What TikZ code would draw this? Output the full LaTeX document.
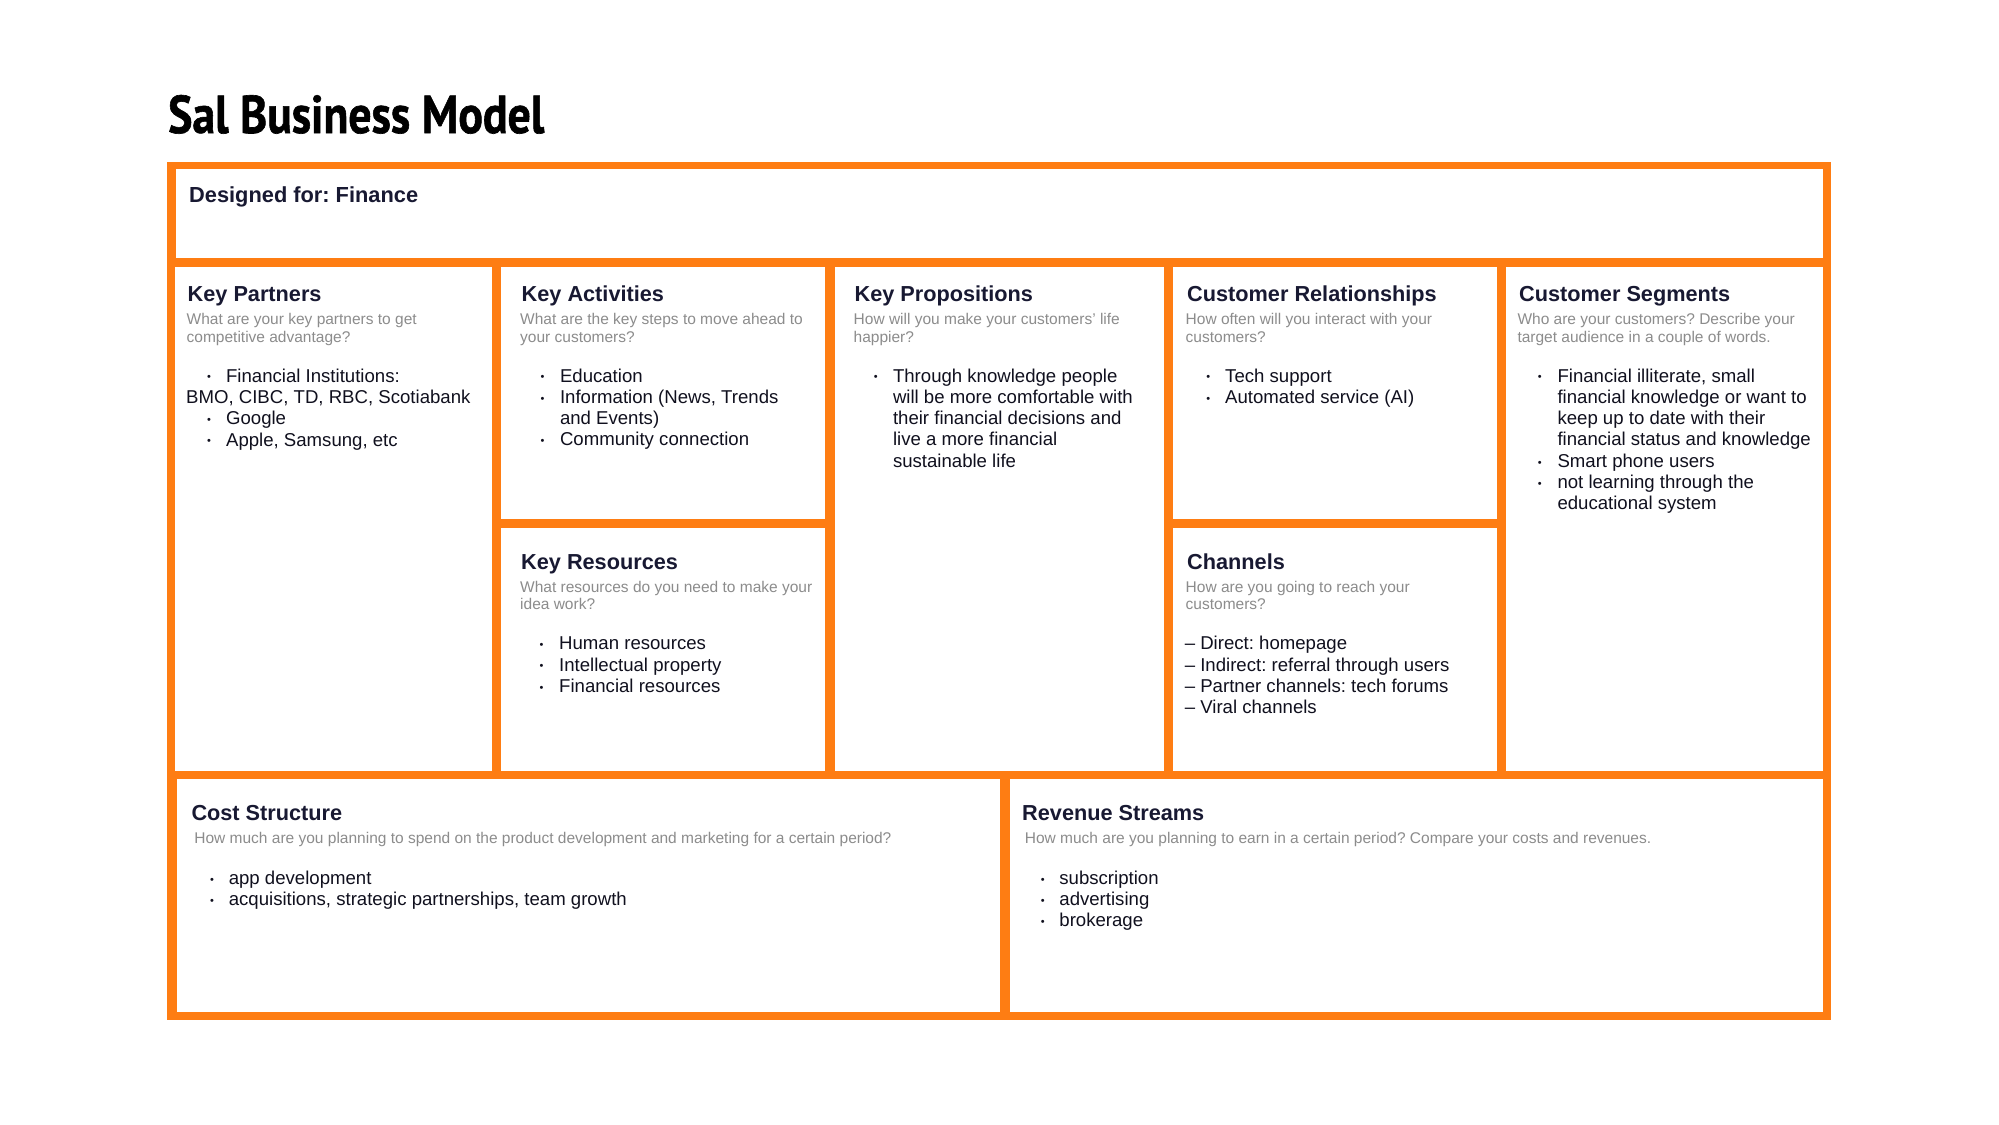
\documentclass[tikz,border=0pt]{standalone}
\usepackage{fontspec}
\setmainfont{Liberation Sans}
\newfontfamily\titlefont{PT Sans}[BoldFeatures={FakeBold=1.2}]
\usepackage{graphicx}
\frenchspacing
\definecolor{orng}{RGB}{254,125,19}
\definecolor{headc}{RGB}{24,25,50}
\definecolor{bodyc}{RGB}{16,16,30}
\definecolor{subc}{RGB}{140,140,140}
\newcommand\lineset[6]{% prefix, style, x, y0, step, list
  \foreach \t [count=\i from 0] in {#6} {\node[#2] (#1\i) at (#3,{#4+\i*#5}) {\t};}}
\newcommand\bulset[4]{% prefix, x, y0, list of line indices with bullets
  \foreach \j in {#4} {\node[bul] (#1\j) at (#2,{#3+\j*21.33}) {\raisebox{1.2pt}{•}};}}
\begin{document}
\begin{tikzpicture}[x=1pt,y=-1pt,
  cell/.style={fill=white, inner sep=0, outer sep=0, anchor=north west},
  head/.style={anchor=base west, inner sep=0, font=\fontsize{21.7}{26}\selectfont\bfseries\frenchspacing, text=headc},
  sub/.style={anchor=base west, inner sep=0, font=\fontsize{15.5}{17.7}\selectfont\frenchspacing, text=subc},
  body/.style={anchor=base west, inner sep=0, font=\fontsize{18.6}{21.33}\selectfont\frenchspacing, text=bodyc},
  bul/.style={anchor=base, inner sep=0, font=\fontsize{11}{11}\selectfont, text=bodyc},
]
\useasboundingbox (0,0) rectangle (1999,1124);
\fill[white] (0,0) rectangle (1999,1124);
% title
\node[anchor=base west, inner sep=0, text=black] (title) at (168,133)
  {\resizebox{376pt}{38pt}{\titlefont\bfseries Sal Business Model}};
% frame and cells
\node[fill=orng, inner sep=0, outer sep=0, anchor=north west, minimum width=1664pt, minimum height=858pt] (frame) at (167,162) {};
\node[cell, minimum width=1647pt, minimum height=89pt] (top) at (176,169) {};
\node[cell, minimum width=317pt, minimum height=504pt] (kp) at (175,267) {};
\node[cell, minimum width=324pt, minimum height=252pt] (ka) at (501,267) {};
\node[cell, minimum width=324pt, minimum height=243pt] (kr) at (501,528) {};
\node[cell, minimum width=329pt, minimum height=504pt] (kpr) at (835,267) {};
\node[cell, minimum width=324pt, minimum height=252pt] (cr) at (1173,267) {};
\node[cell, minimum width=324pt, minimum height=243pt] (ch) at (1173,528) {};
\node[cell, minimum width=317pt, minimum height=504pt] (cs) at (1506,267) {};
\node[cell, minimum width=823pt, minimum height=233pt] (cost) at (177,779) {};
\node[cell, minimum width=813pt, minimum height=233pt] (rev) at (1010,779) {};
% designed for
\node[anchor=base west, inner sep=0, text=headc, font=\fontsize{21.8}{26}\selectfont\bfseries\frenchspacing] (designed) at (189,202.5) {Designed for: Finance};
% Key Partners
\node[head] (kph) at (187.5,301.5) {Key Partners};
\lineset{kps}{sub}{186.5}{324.5}{17.7}{{What are your key partners to get},{competitive advantage?}}
\node[body] (kpt0) at (225.9,382) {Financial Institutions:};
\node[body] (kpt1) at (186,403.33) {BMO, CIBC, TD, RBC, Scotiabank};
\node[body] (kpt2) at (225.9,424.67) {Google};
\node[body] (kpt3) at (225.9,446) {Apple, Samsung, etc};
\bulset{kpb}{209}{382}{0,2,3}
% Key Activities
\node[head] (kah) at (521.5,301.5) {Key Activities};
\lineset{kas}{sub}{520}{324.5}{17.7}{{What are the key steps to move ahead to},{your customers?}}
\lineset{kat}{body}{559.8}{382}{21.33}{{Education},{Information (News, Trends},{and Events)},{Community connection}}
\bulset{kab}{542.5}{382}{0,1,3}
% Key Resources
\node[head] (krh) at (521,569.2) {Key Resources};
\lineset{krs}{sub}{520}{592.2}{17.7}{{What resources do you need to make your},{idea work?}}
\lineset{krt}{body}{559}{649.7}{21.33}{{Human resources},{Intellectual property},{Financial resources}}
\bulset{krb}{541.6}{649.7}{0,1,2}
% Key Propositions
\node[head] (kprh) at (854.4,301.5) {Key Propositions};
\lineset{kprs}{sub}{853.5}{324.5}{17.7}{{How will you make your customers' life},{happier?}}
\lineset{kprt}{body}{892.8}{382}{21.33}{{Through knowledge people},{will be more comfortable with},{their financial decisions and},{live a more financial},{sustainable life}}
\bulset{kprb}{875.8}{382}{0}
% Customer Relationships
\node[head] (crh) at (1187,301.5) {Customer Relationships};
\lineset{crs}{sub}{1185.5}{324.5}{17.7}{{How often will you interact with your},{customers?}}
\lineset{crt}{body}{1225}{382}{21.33}{{Tech support},{Automated service (AI)}}
\bulset{crb}{1208.4}{382}{0,1}
% Channels
\node[head] (chh) at (1187,569.2) {Channels};
\lineset{chs}{sub}{1185.5}{592.2}{17.7}{{How are you going to reach your},{customers?}}
\lineset{cht}{body}{1184.6}{649.7}{21.33}{{– Direct: homepage},{– Indirect: referral through users},{– Partner channels: tech forums},{– Viral channels}}
% Customer Segments
\node[head] (csh) at (1519,301.5) {Customer Segments};
\lineset{css}{sub}{1517.3}{324.5}{17.7}{{Who are your customers? Describe your},{target audience in a couple of words.}}
\lineset{cst}{body}{1557.3}{382}{21.33}{{Financial illiterate, small},{financial knowledge or want to},{keep up to date with their},{financial status and knowledge},{Smart phone users},{not learning through the},{educational system}}
\bulset{csb}{1539.7}{382}{0,4,5}
% Cost Structure
\node[head] (costh) at (191.3,820.4) {Cost Structure};
\node[sub] (costs0) at (194.2,843.5) {How much are you planning to spend on the product development and marketing for a certain period?};
\lineset{costt}{body}{228.6}{884.3}{21.33}{{app development},{acquisitions, strategic partnerships, team growth}}
\bulset{costb}{212}{884.3}{0,1}
% Revenue Streams
\node[head] (revh) at (1022,820.4) {Revenue Streams};
\node[sub] (revs0) at (1024.7,843.5) {How much are you planning to earn in a certain period? Compare your costs and revenues.};
\lineset{revt}{body}{1059.2}{884.3}{21.33}{{subscription},{advertising},{brokerage}}
\bulset{revb}{1042.8}{884.3}{0,1,2}
\end{tikzpicture}
\end{document}
